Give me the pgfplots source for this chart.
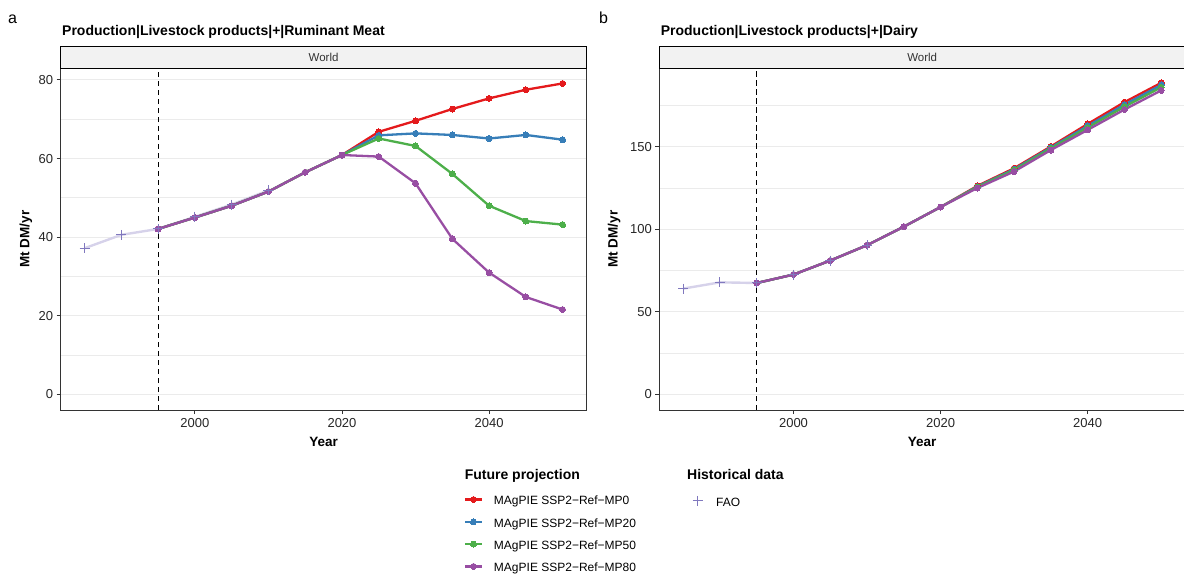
\documentclass[border=0pt]{standalone}
\usepackage{fontspec}
\setmainfont{Liberation Sans}
\usepackage{pgfplots}
\usepackage{pgfplotstable}
\pgfplotsset{compat=1.18}

\definecolor{cRed}{HTML}{E41A1C}
\definecolor{cBlue}{HTML}{377EB8}
\definecolor{cGreen}{HTML}{4DAF4A}
\definecolor{cPurple}{HTML}{984EA3}
\definecolor{faoMark}{RGB}{128,120,190}
\definecolor{faoLine}{RGB}{214,210,234}
\definecolor{axiscol}{HTML}{333333}
\definecolor{gridcol}{HTML}{EBEBEB}
\definecolor{stripfill}{HTML}{F2F2F2}
\definecolor{tickcol}{HTML}{262626}

% ---------------- Ruminant meat (Mt DM/yr) ----------------
\pgfplotstableread{
year val
1985 37.2
1990 40.6
1995 42.1
2000 45.2
2005 48.3
2010 51.9
}\meatFAO
\pgfplotstableread{
year val
1995 42.1
2000 45.0
2005 48.0
2010 51.6
2015 56.5
2020 60.9
2025 66.8
2030 69.6
2035 72.6
2040 75.3
2045 77.5
2050 79.1
}\meatMPa
\pgfplotstableread{
year val
1995 42.1
2000 45.0
2005 48.0
2010 51.6
2015 56.5
2020 60.9
2025 65.9
2030 66.4
2035 66.0
2040 65.1
2045 66.0
2050 64.8
}\meatMPb
\pgfplotstableread{
year val
1995 42.1
2000 45.0
2005 48.0
2010 51.6
2015 56.5
2020 60.9
2025 65.1
2030 63.2
2035 56.1
2040 48.0
2045 44.1
2050 43.2
}\meatMPc
\pgfplotstableread{
year val
1995 42.1
2000 45.0
2005 48.0
2010 51.6
2015 56.5
2020 60.9
2025 60.5
2030 53.7
2035 39.6
2040 31.0
2045 24.8
2050 21.6
}\meatMPd

% ---------------- Dairy (Mt DM/yr) ----------------
\pgfplotstableread{
year val
1985 64.1
1990 67.9
1995 67.5
2000 72.6
2005 81.1
2010 90.4
}\dairyFAO
\pgfplotstableread{
year val
1995 67.5
2000 72.6
2005 81.1
2010 90.4
2015 101.6
2020 113.5
2025 126.3
2030 137.0
2035 150.2
2040 163.8
2045 177.0
2050 188.7
}\dairyMPa
\pgfplotstableread{
year val
1995 67.5
2000 72.6
2005 81.1
2010 90.4
2015 101.6
2020 113.5
2025 125.9
2030 136.4
2035 149.6
2040 162.6
2045 175.5
2050 187.4
}\dairyMPb
\pgfplotstableread{
year val
1995 67.5
2000 72.6
2005 81.1
2010 90.4
2015 101.6
2020 113.5
2025 125.6
2030 135.9
2035 149.0
2040 161.6
2045 174.2
2050 186.0
}\dairyMPc
\pgfplotstableread{
year val
1995 67.5
2000 72.6
2005 81.1
2010 90.4
2015 101.6
2020 113.5
2025 125.0
2030 135.0
2035 148.0
2040 160.2
2045 172.5
2050 184.1
}\dairyMPd

\pgfplotsset{
  panel/.style={
    scale only axis, width=525.8pt, height=341.7pt,
    anchor=south west,
    xmin=1981.75, xmax=2053.25,
    xtick={2000,2020,2040},
    axis line style={draw=axiscol, line width=0.9pt},
    tick style={draw=axiscol, line width=0.9pt},
    major tick length=4pt, minor tick length=0pt,
    tick align=outside, tick pos=left,
    ymajorgrids, yminorgrids,
    major grid style={draw=gridcol, line width=1.1pt},
    minor grid style={draw=gridcol, line width=0.8pt},
    ticklabel style={font=\fontsize{13}{13}\selectfont, text=tickcol},
    /pgf/number format/assume math mode=true,
    /pgf/number format/1000 sep={},
    xticklabel style={anchor=base, yshift=-13.3pt},
    xlabel={Year}, ylabel={Mt DM/yr},
    label style={font=\bfseries\fontsize{13.5}{13.5}\selectfont, text=black},
    xlabel style={at={(axis description cs:0.5,-0.1074)}, anchor=base},
    clip=false,
    legend cell align=left,
    legend style={draw=none, fill=none, inner sep=0pt, outer sep=0pt,
      font=\fontsize{12}{12}\selectfont,
      nodes={inner sep=0pt, text height=9pt, text depth=3pt},
      row sep=10.3pt},
  },
  mline/.style={#1, line width=2.3pt, mark=*, mark size=3pt, mark options={solid, fill=#1, draw=#1, line width=0pt}},
  faoline/.style={faoLine, line width=2.4pt, no marks},
  faomarks/.style={only marks, mark=+, mark size=5pt, faoMark, mark options={line width=1pt}},
  keyline/.style={legend image code/.code={\draw[mark repeat=2,mark phase=2,##1] plot coordinates {(0pt,2.5pt) (8.35pt,2.5pt) (16.7pt,2.5pt)};}},
  keymark/.style={legend image code/.code={\draw[##1] plot coordinates {(0pt,2.2pt)};}},
}

\begin{document}
\begin{tikzpicture}[x=1pt,y=1pt]
\useasboundingbox (0,0) rectangle (1184,-575);

% ===================== Panel a =====================
\begin{axis}[panel, at={(60.7pt,-410pt)},
  ymin=-3.95, ymax=82.95,
  ytick={0,20,40,60,80}, minor ytick={10,30,50,70},
  ylabel style={at={(axis description cs:-0.066,0.5)}, anchor=center},
  legend style={at={(axis description cs:0.7670,-0.1864)}, anchor=north west,
    /tikz/every odd column/.append style={column sep=11pt}},
]
\addplot[black, dashed, dash pattern=on 5.5pt off 3.5pt, line width=1.1pt, forget plot] coordinates {(1995,-3.95) (1995,82.95)};
\addplot[faoline, forget plot] table[x=year,y=val] {\meatFAO};
\addplot[mline=cRed, forget plot] table[x=year,y=val] {\meatMPa};
\addplot[mline=cBlue, forget plot] table[x=year,y=val] {\meatMPb};
\addplot[mline=cGreen, forget plot] table[x=year,y=val] {\meatMPc};
\addplot[mline=cPurple, forget plot] table[x=year,y=val] {\meatMPd};
\addplot[faomarks, forget plot] table[x=year,y=val] {\meatFAO};

\addlegendimage{empty legend}
\addlegendentry{\makebox[0pt][l]{\hspace*{-29.7pt}\raisebox{2.7pt}{\fontsize{14}{14}\selectfont\bfseries Future projection}}}
\addlegendimage{keyline, mline=cRed}
\addlegendentry{MAgPIE SSP2−Ref−MP0}
\addlegendimage{keyline, mline=cBlue}
\addlegendentry{MAgPIE SSP2−Ref−MP20}
\addlegendimage{keyline, mline=cGreen}
\addlegendentry{MAgPIE SSP2−Ref−MP50}
\addlegendimage{keyline, mline=cPurple}
\addlegendentry{MAgPIE SSP2−Ref−MP80}

\draw[fill=stripfill, draw=black, line width=0.9pt] (rel axis cs:0,1) rectangle (rel axis cs:1,1.06526);
\node[font=\fontsize{11.5}{11.5}\selectfont, text=black!80] at (rel axis cs:0.5,1.03263) {World};
\end{axis}

% ===================== Panel b =====================
\begin{axis}[panel, at={(659.3pt,-410pt)},
  ymin=-9.4, ymax=197.5,
  ytick={0,50,100,150}, minor ytick={25,75,125,175},
  ylabel style={at={(axis description cs:-0.0858,0.5)}, anchor=center},
  legend style={at={(axis description cs:0.0635,-0.1864)}, anchor=north west,
    /tikz/every odd column/.append style={column sep=13.4pt}},
]
\addplot[black, dashed, dash pattern=on 5.5pt off 3.5pt, line width=1.1pt, forget plot] coordinates {(1995,-9.4) (1995,197.5)};
\addplot[faoline, forget plot] table[x=year,y=val] {\dairyFAO};
\addplot[mline=cRed, forget plot] table[x=year,y=val] {\dairyMPa};
\addplot[mline=cBlue, forget plot] table[x=year,y=val] {\dairyMPb};
\addplot[mline=cGreen, forget plot] table[x=year,y=val] {\dairyMPc};
\addplot[mline=cPurple, forget plot] table[x=year,y=val] {\dairyMPd};
\addplot[faomarks, forget plot] table[x=year,y=val] {\dairyFAO};

\addlegendimage{empty legend}
\addlegendentry{\makebox[0pt][l]{\hspace*{-29.4pt}\raisebox{2.7pt}{\fontsize{14}{14}\selectfont\bfseries Historical data}}}
\addlegendimage{keymark, faomarks}
\addlegendentry{FAO}

\draw[fill=stripfill, draw=black, line width=0.9pt] (rel axis cs:0,1) rectangle (rel axis cs:1,1.06526);
\node[font=\fontsize{11.5}{11.5}\selectfont, text=black!80] at (rel axis cs:0.5,1.03263) {World};
\end{axis}

% titles and panel letters
\node[anchor=base west, font=\fontsize{16}{16}\selectfont, inner sep=0pt] at (8,-23.3) {a};
\node[anchor=base west, font=\fontsize{16}{16}\selectfont, inner sep=0pt] at (599,-23.3) {b};
\node[anchor=base west, font=\fontsize{14}{14}\selectfont\bfseries, inner sep=0pt] at (62,-36) {Production|Livestock products|+|Ruminant Meat};
\node[anchor=base west, font=\fontsize{14}{14}\selectfont\bfseries, inner sep=0pt] at (660.6,-36) {Production|Livestock products|+|Dairy};
\end{tikzpicture}
\end{document}
